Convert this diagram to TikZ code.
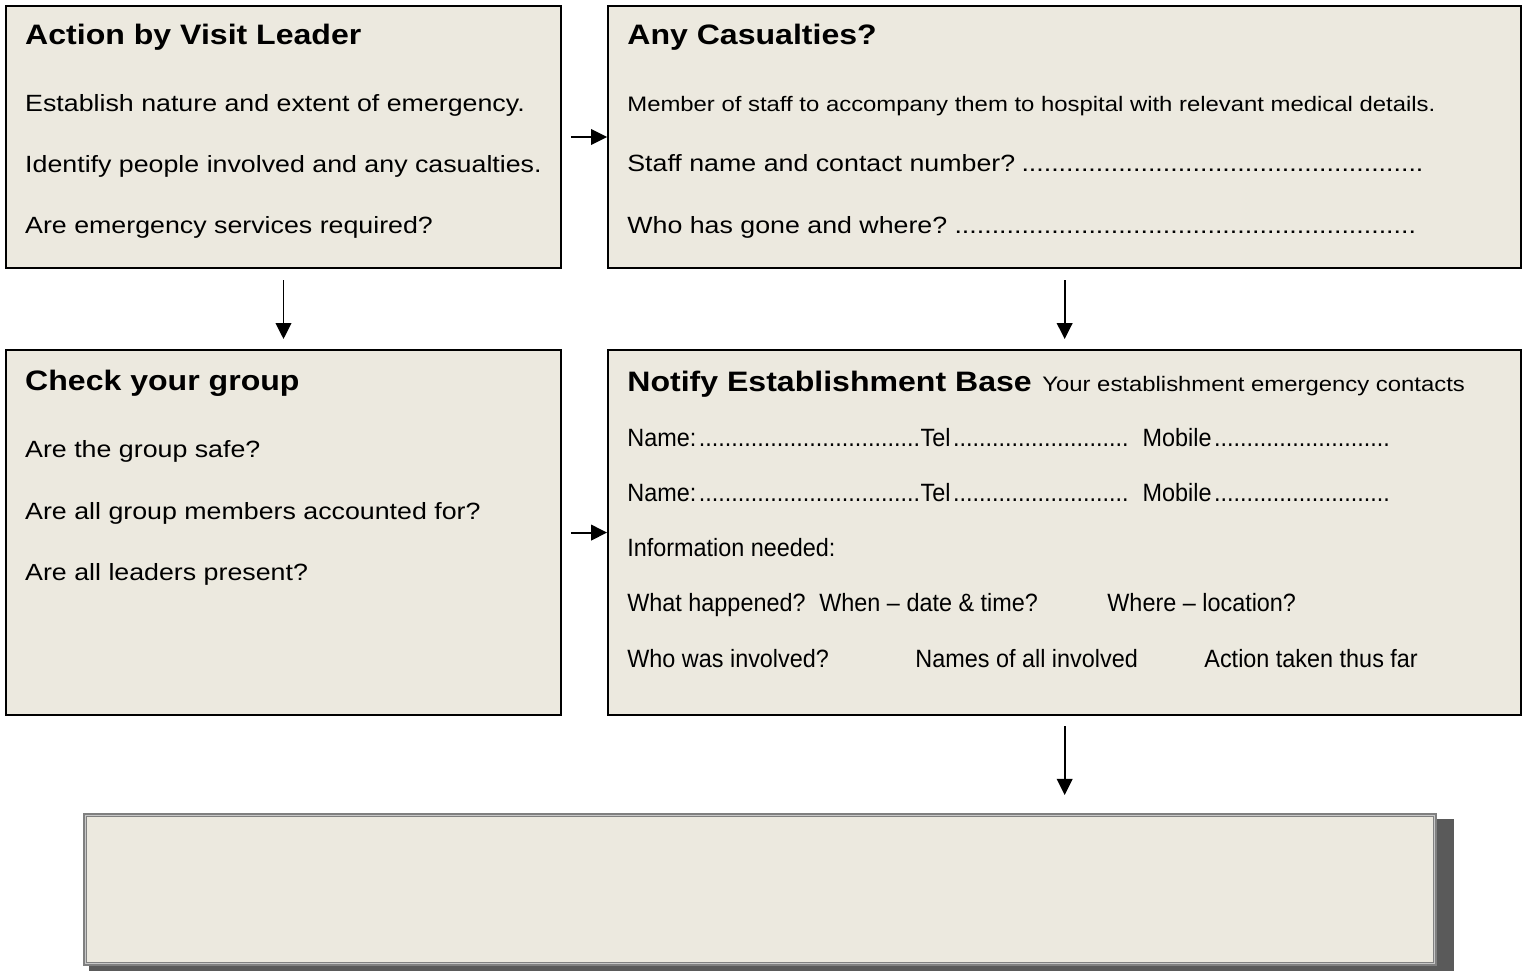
\documentclass[tikz,border=0pt]{standalone}
\usepackage{fontspec}
\setmainfont{Liberation Sans}[FakeStretch=1.14]
\newfontfamily\narrowfont{Liberation Sans}[FakeStretch=0.935]
\usetikzlibrary{arrows.meta, positioning}
\definecolor{panelfill}{HTML}{ECE9DF}
\definecolor{edgegray}{HTML}{808080}
\definecolor{lightedge}{HTML}{C8C8C8}
\definecolor{shadowgray}{HTML}{5A5A5A}
\newcommand{\dotsto}[2]{\makebox[#1][l]{#2\leaders\hbox{.}\hfill}}

\begin{document}
\begin{tikzpicture}[x=0.025cm, y=-0.025cm,
    panel/.style={rectangle, draw, line width=1.4pt, fill=panelfill, inner sep=0pt},
    heading/.style={anchor=base west, inner sep=0pt, font=\fontsize{20}{24}\selectfont\bfseries},
    entry/.style={anchor=base west, inner sep=0pt, font=\fontsize{16.7}{20}\selectfont},
    smallentry/.style={anchor=base west, inner sep=0pt, font=\fontsize{14.9}{18}\selectfont},
    narrowentry/.style={anchor=base west, inner sep=0pt, font=\fontsize{17.8}{21}\selectfont\narrowfont},
    flow/.style={-{Triangle[length=0.4cm, width=0.39cm]}, line width=1.4pt}]

\useasboundingbox (0,0) rectangle (1528,971);

% the four panels
\node[panel, minimum width=13.875cm, minimum height=6.55cm] (leader) at (283.5,137) {};
\node[panel, minimum width=22.825cm, minimum height=6.55cm] (casualties) [right=1.125cm of leader] {};
\node[panel, minimum width=13.875cm, minimum height=9.125cm] (group) [below=2.0cm of leader] {};
\node[panel, minimum width=22.825cm, minimum height=9.125cm] (notify) [right=1.125cm of group] {};

% empty box at the bottom, with its shadow
\coordinate (reportc) at (760,889.5);
\fill[shadowgray] ([shift={(4,4)}]reportc) ++(-675,-74.5) rectangle ++(1365,160);
\node[rectangle, draw=edgegray, line width=0.1cm, fill=panelfill, minimum width=33.75cm, minimum height=3.725cm, inner sep=0pt] (report) at (reportc) {};
\draw[lightedge, line width=0.6pt] ([shift={(2.5,2.5)}]report.north west) rectangle ([shift={(-2.5,-2.5)}]report.south east);

% action by visit leader
\node[heading] (lttl) at ([shift={(20,40)}]leader.north west) {Action by Visit Leader};
\node[entry] (l1) at ([shift={(20,107)}]leader.north west) {Establish nature and extent of emergency.};
\node[entry] (l2) at ([shift={(20,168)}]leader.north west) {Identify people involved and any casualties.};
\node[entry] (l3) at ([shift={(20,229)}]leader.north west) {Are emergency services required?};

% any casualties
\node[heading] (cttl) at ([shift={(20,40)}]casualties.north west) {Any Casualties?};
\node[smallentry] (c1) at ([shift={(20,107)}]casualties.north west) {Member of staff to accompany them to hospital with relevant medical details.};
\node[entry] (c2) at ([shift={(20,167)}]casualties.north west) {\dotsto{20.05cm}{Staff name and contact number?}};
\node[entry] (c3) at ([shift={(20,229)}]casualties.north west) {\dotsto{19.85cm}{Who has gone and where?}};

% check your group
\node[heading] (gttl) at ([shift={(20,41)}]group.north west) {Check your group};
\node[entry] (g1) at ([shift={(20,108)}]group.north west) {Are the group safe?};
\node[entry] (g2) at ([shift={(20,170)}]group.north west) {Are all group members accounted for?};
\node[entry] (g3) at ([shift={(20,231)}]group.north west) {Are all leaders present?};

% notify establishment base
\node[heading] (nttl) at ([shift={(20,42)}]notify.north west) {Notify Establishment Base};
\node[smallentry] (nsub) at ([xshift=0.25cm]nttl.base east) {Your establishment emergency contacts};
\node[narrowentry] (n1) at ([shift={(20,97)}]notify.north west) {\dotsto{7.325cm}{Name:}\dotsto{5.35cm}{Tel}\hspace{0.2cm}\dotsto{6.2cm}{Mobile}};
\node[narrowentry] (n2) at ([shift={(20,152)}]notify.north west) {\dotsto{7.325cm}{Name:}\dotsto{5.35cm}{Tel}\hspace{0.2cm}\dotsto{6.2cm}{Mobile}};
\node[narrowentry] (n3) at ([shift={(20,207)}]notify.north west) {Information needed:};
\node[narrowentry] (n4) at ([shift={(20,262)}]notify.north west) {\makebox[4.8cm][l]{What happened?}\makebox[7.2cm][l]{When – date \& time?}Where – location?};
\node[narrowentry] (n5) at ([shift={(20,318)}]notify.north west) {\makebox[7.2cm][l]{Who was involved?}\makebox[7.225cm][l]{Names of all involved}Action taken thus far};

% arrows
\draw[flow, shorten <=0.22cm] (leader) -- (casualties);
\draw[flow, shorten <=0.22cm] (group) -- (notify);
\draw[flow, shorten <=0.28cm, shorten >=0.25cm] (leader) -- (group);
\draw[flow, shorten <=0.28cm, shorten >=0.25cm] (casualties) -- (notify);
\draw[flow, shorten <=0.25cm, shorten >=0.45cm] (notify) -- (notify.south |- report.north);

\end{tikzpicture}
\end{document}
